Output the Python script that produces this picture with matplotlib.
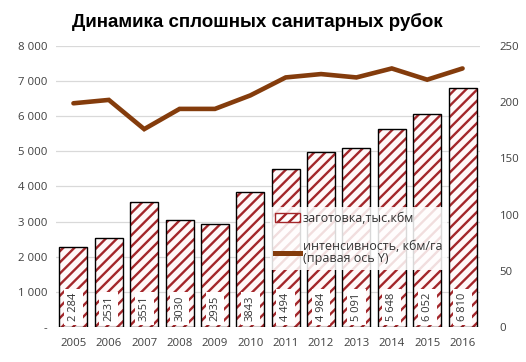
import matplotlib.pyplot as plt
import matplotlib.patches as mpatches
import matplotlib.lines as mlines
from matplotlib.ticker import FuncFormatter

# Данные
years = ['2005', '2006', '2007', '2008', '2009', '2010',
         '2011', '2012', '2013', '2014', '2015', '2016']
zagotovka = [2284, 2531, 3551, 3030, 2935, 3843, 4494, 4984, 5091, 5648, 6052, 6810]
labels = ['2 284', '2531', '3551', '3030', '2935', '3843',
          '4 494', '4 984', '5 091', '5 648', '6 052', '6 810']
intensivnost = [199, 202, 176, 194, 194, 206, 222, 225, 222, 230, 220, 230]

plt.rcParams['font.family'] = ['Open Sans', 'DejaVu Sans']
plt.rcParams['hatch.linewidth'] = 1.7

bar_red = '#a3262a'
line_brown = '#843c0c'

fig = plt.figure(figsize=(5.26, 3.62), dpi=100)
ax = fig.add_axes([0.106, 0.097, 0.807, 0.776])
ax2 = ax.twinx()

x = range(len(years))
# штриховка и контур отдельно
ax.bar(x, zagotovka, width=0.79, color='#fff8f8', edgecolor=bar_red,
       hatch='///', linewidth=0, zorder=2)
ax.bar(x, zagotovka, width=0.79, color='none', edgecolor='black',
       linewidth=1.0, zorder=3)

for i, lab in enumerate(labels):
    ax.text(i, 170, lab, rotation=90, ha='center', va='bottom', fontsize=8,
            color='#333333', zorder=4,
            bbox=dict(boxstyle='square,pad=0.35', fc='white', ec='none'))

ax.set_ylim(0, 8000)
ax.set_xlim(-0.5, len(years) - 0.5)
ax.set_yticks(range(0, 8001, 1000))
ax.yaxis.set_major_formatter(FuncFormatter(
    lambda v, p: '-' if v == 0 else f'{int(v):,}'.replace(',', ' ')))
ax.set_xticks(list(x))
ax.set_xticklabels(years)
ax.grid(axis='y', color='#d9d9d9', linewidth=0.9, zorder=0)
ax.set_axisbelow(True)

ax2.plot(list(x), intensivnost, color=line_brown, linewidth=3.3,
         solid_capstyle='round', solid_joinstyle='miter', zorder=5)
ax2.set_ylim(0, 250)
ax2.set_yticks(range(0, 251, 50))

for a in (ax, ax2):
    for s in a.spines.values():
        s.set_visible(False)
    a.tick_params(length=0, labelsize=8.2, colors='#404040', pad=6)
ax.tick_params(axis='x', pad=8)
ax2.tick_params(axis='y', pad=14)

h1 = mpatches.Patch(facecolor='white', edgecolor=bar_red, hatch='///')
h2 = mlines.Line2D([], [], color=line_brown, linewidth=3.6)
leg = ax2.legend([h1, h2], ['заготовка,тыс.кбм', 'интенсивность, кбм/га\n(правая ось Y)'],
                 loc='upper left', bbox_to_anchor=(0.49, 0.45), frameon=True,
                 fontsize=9, labelspacing=1.2, handlelength=2.0,
                 handletextpad=0.2, borderpad=0.4, fancybox=False)
leg.get_frame().set_facecolor('white')
leg.get_frame().set_alpha(0.85)
leg.get_frame().set_edgecolor('none')
for t in leg.get_texts():
    t.set_color('#333333')
    t.set_linespacing(0.95)

fig.text(0.49, 0.94, 'Динамика сплошных санитарных рубок', ha='center', va='center',
         fontsize=13.5, fontweight='bold', family=['Liberation Sans', 'DejaVu Sans'])

fig.savefig('out.png', dpi=100, facecolor='white')
